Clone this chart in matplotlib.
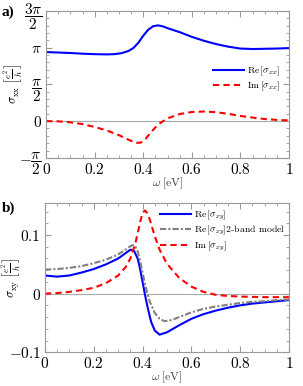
import numpy as np
import matplotlib.pyplot as plt
from matplotlib.ticker import AutoMinorLocator

plt.rcParams['mathtext.fontset'] = 'cm'
plt.rcParams['font.family'] = 'serif'
plt.rcParams['font.serif'] = ['cmr10', 'DejaVu Serif']
plt.rcParams['axes.unicode_minus'] = False
plt.rcParams['axes.formatter.use_mathtext'] = True

# panel a) sigma_xx
w_re_xx = [0, 0.05, 0.1, 0.15, 0.2, 0.25, 0.28, 0.31, 0.34, 0.36, 0.38, 0.4, 0.42, 0.44,
           0.46, 0.48, 0.5, 0.55, 0.6, 0.65, 0.7, 0.75, 0.8, 0.85, 0.9, 0.95, 1.0]
re_xx = [2.95, 2.93, 2.91, 2.88, 2.86, 2.85, 2.86, 2.90, 3.00, 3.13, 3.35, 3.65, 3.90, 4.05,
         4.09, 4.05, 3.97, 3.80, 3.60, 3.43, 3.29, 3.18, 3.10, 3.08, 3.09, 3.10, 3.12]
w_im_xx = [0, 0.05, 0.1, 0.15, 0.2, 0.25, 0.3, 0.34, 0.37, 0.39, 0.41, 0.43, 0.45, 0.47,
           0.5, 0.55, 0.6, 0.65, 0.7, 0.75, 0.8, 0.85, 0.9, 0.95, 1.0]
im_xx = [0, -0.01, -0.05, -0.13, -0.25, -0.40, -0.60, -0.80, -0.93, -0.92, -0.75, -0.50, -0.27, -0.08,
         0.12, 0.30, 0.39, 0.41, 0.38, 0.31, 0.22, 0.15, 0.09, 0.05, 0.03]

# panel b) sigma_xy
w_re_xy = [0, 0.05, 0.1, 0.15, 0.2, 0.25, 0.3, 0.33, 0.35, 0.365, 0.38, 0.39, 0.4, 0.41, 0.42,
           0.435, 0.45, 0.47, 0.5, 0.55, 0.6, 0.65, 0.7, 0.75, 0.8, 0.85, 0.9, 0.95, 1.0]
re_xy = [0.031, 0.029, 0.031, 0.036, 0.042, 0.050, 0.060, 0.069, 0.075, 0.073, 0.060, 0.042, 0.020,
         -0.002, -0.022, -0.048, -0.063, -0.070, -0.066, -0.054, -0.043, -0.035, -0.029, -0.024,
         -0.020, -0.017, -0.015, -0.013, -0.011]
w_2band = [0, 0.05, 0.1, 0.15, 0.2, 0.25, 0.3, 0.33, 0.35, 0.36, 0.37, 0.38, 0.39, 0.4, 0.41, 0.42,
           0.43, 0.45, 0.47, 0.49, 0.52, 0.55, 0.6, 0.65, 0.7, 0.75, 0.8, 0.85, 0.9, 0.95, 1.0]
re_xy_2band = [0.041, 0.042, 0.044, 0.047, 0.052, 0.058, 0.067, 0.075, 0.081, 0.083, 0.081, 0.072,
               0.056, 0.036, 0.016, 0.000, -0.014, -0.033, -0.043, -0.047, -0.045, -0.040, -0.032,
               -0.026, -0.022, -0.019, -0.016, -0.014, -0.013, -0.011, -0.010]
w_im_xy = [0, 0.05, 0.1, 0.15, 0.2, 0.25, 0.3, 0.33, 0.35, 0.37, 0.38, 0.39, 0.4, 0.41, 0.42,
           0.43, 0.45, 0.47, 0.5, 0.55, 0.6, 0.65, 0.7, 0.75, 0.8, 0.9, 1.0]
im_xy = [0.000, 0.001, 0.003, 0.006, 0.010, 0.018, 0.031, 0.045, 0.060, 0.085, 0.103, 0.122, 0.138,
         0.142, 0.137, 0.126, 0.098, 0.075, 0.051, 0.027, 0.012, 0.003, -0.002, -0.004, -0.005,
         -0.006, -0.006]

xticks = [0, 0.2, 0.4, 0.6, 0.8, 1]
xticklabels = ['$0$', '$0.2$', '$0.4$', '$0.6$', '$0.8$', '$1$']
yticks_a = [-np.pi/2, 0, np.pi/2, np.pi, 3*np.pi/2]
yticklabels_a = [r'$-\dfrac{\pi}{2}$', '$0$', r'$\dfrac{\pi}{2}$', r'$\pi$', r'$\dfrac{3\pi}{2}$']
yticks_b = [-0.1, 0, 0.1]
yticklabels_b = ['$-0.1$', '$0$', '$0.1$']

fig = plt.figure(figsize=(3.03, 3.86), dpi=100)
ax1 = fig.add_axes([0.152, 0.591, 0.802, 0.381])
ax2 = fig.add_axes([0.1485, 0.0875, 0.805, 0.387])

def style(ax):
    for s in ax.spines.values():
        s.set_color('#999999')
        s.set_linewidth(0.8)
    ax.tick_params(which='both', direction='in', top=True, right=True, color='#999999',
                   labelsize=11, pad=3)
    ax.tick_params(which='major', length=4)
    ax.tick_params(which='minor', length=2)
    ax.xaxis.set_minor_locator(AutoMinorLocator(4))
    ax.yaxis.set_minor_locator(AutoMinorLocator(5))
    ax.axhline(0, color='#aaaaaa', lw=0.8, zorder=0)
    ax.set_xlim(0, 1)
    ax.set_xticks(xticks)
    ax.set_xticklabels(xticklabels)
    ax.set_xlabel(r'$\omega\;[\mathrm{eV}]$', fontsize=8.5, labelpad=-1, color='#444444')

ax1.plot(w_re_xx, re_xx, color='#0000ff', lw=1.5, label=r'$\mathrm{Re}\,[\sigma_{xx}]$')
ax1.plot(w_im_xx, im_xx, color='#ff0000', lw=1.5, ls=(0, (3, 2)), label=r'$\mathrm{Im}\,[\sigma_{xx}]$')
style(ax1)
ax1.set_ylim(-np.pi/2, 3*np.pi/2)
ax1.set_yticks(yticks_a)
ax1.set_yticklabels(yticklabels_a)
ax1.set_ylabel(r'$\sigma_{\mathrm{xx}}\ \left[\frac{e^2}{h}\right]$', fontsize=9)
ax1.yaxis.set_label_coords(-0.085, 0.5)
ax1.legend(loc='upper right', bbox_to_anchor=(0.98, 0.66), frameon=False, fontsize=7,
           handlelength=3.2, handletextpad=0.3, labelspacing=0.2, borderaxespad=0)

ax2.plot(w_re_xy, re_xy, color='#0000ff', lw=1.5, label=r'$\mathrm{Re}\,[\sigma_{xy}]$')
ax2.plot(w_2band, re_xy_2band, color='#808080', lw=1.5, ls=(0, (3, 1, 1, 1)),
         label=r'$\mathrm{Re}\,[\sigma_{xy}]$2-band model')
ax2.plot(w_im_xy, im_xy, color='#ff0000', lw=1.5, ls=(0, (3, 2)), label=r'$\mathrm{Im}\,[\sigma_{xy}]$')
style(ax2)
ax2.set_ylim(-0.1, 0.155)
ax2.set_yticks(yticks_b)
ax2.set_yticklabels(yticklabels_b)
ax2.set_ylabel(r'$\sigma_{\mathrm{xy}}\ \left[\frac{e^2}{h}\right]$', fontsize=9)
ax2.yaxis.set_label_coords(-0.09, 0.5)
ax2.legend(loc='upper right', bbox_to_anchor=(1.0, 0.985), frameon=False, fontsize=7,
           handlelength=3.2, handletextpad=0.3, labelspacing=0.2, borderaxespad=0)

fig.text(0.005, 0.968, 'a)', fontsize=11, fontweight='bold', va='center', family='Liberation Serif')
fig.text(0.005, 0.46, 'b)', fontsize=11, fontweight='bold', va='center', family='Liberation Serif')

fig.savefig('out.png', dpi=100)
